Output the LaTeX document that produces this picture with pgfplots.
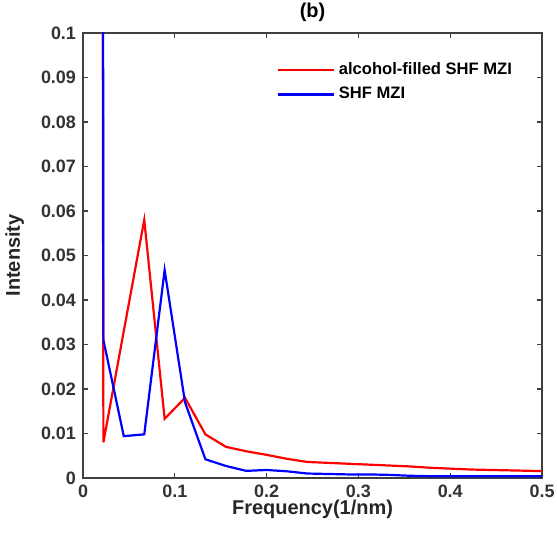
\documentclass[border=0pt]{standalone}
\usepackage{fontspec}
\setmainfont{Liberation Sans}
\usepackage{pgfplots}
\pgfplotsset{compat=1.18}
\begin{document}
\begin{tikzpicture}
\begin{axis}[
    name=main,
    scale only axis,
    width=230pt, height=223pt,
    xmin=0, xmax=0.5,
    ymin=0, ymax=0.1,
    xtick={0,0.1,0.2,0.3,0.4,0.5},
    xticklabels={0,0.1,0.2,0.3,0.4,0.5},
    ytick={0,0.01,0.02,0.03,0.04,0.05,0.06,0.07,0.08,0.09,0.1},
    yticklabels={0,0.01,0.02,0.03,0.04,0.05,0.06,0.07,0.08,0.09,0.1},
    tick align=inside,
    tick pos=both,
    major tick length=2.5pt,
    axis line style={black!75, line width=0.6pt},
    tick style={black!75, line width=0.6pt},
    tick label style={font=\fontsize{9}{11}\selectfont\bfseries, text=black!80},
    title={\bfseries (b)},
    title style={inner sep=0pt, yshift=-0.5pt},
    xlabel={\bfseries Frequency(1/nm)},
    ylabel={\bfseries Intensity},
    label style={text=black!85, inner sep=0pt},
    xlabel style={yshift=2.5pt},
    ylabel style={yshift=5pt},
    legend style={draw=none, fill=none, at={(0.957,0.953)}, anchor=north east,
        font=\fontsize{8.3}{10}\selectfont\bfseries, row sep=1pt},
    legend cell align=left,
    legend image code/.code={\draw[#1] (0pt,0pt) -- (28pt,0pt);},
    every axis plot/.append style={line width=1.1pt},
]
\addplot[red] coordinates {
(0,3) (0.0222,0.008) (0.0444,0.033) (0.0667,0.058) (0.0889,0.0133)
(0.1111,0.018) (0.1333,0.0098) (0.1556,0.0070) (0.1778,0.0060) (0.2,0.0052)
(0.2222,0.0043) (0.2444,0.0036) (0.2667,0.0034) (0.2889,0.0032) (0.3111,0.0030)
(0.3333,0.0028) (0.3556,0.0026) (0.3778,0.0023) (0.4,0.0021) (0.4222,0.0019)
(0.4444,0.0018) (0.4667,0.0017) (0.4889,0.0016) (0.5111,0.0015)
};
\addplot[blue] coordinates {
(0,5) (0.0222,0.031) (0.0444,0.0094) (0.0667,0.0098) (0.0889,0.0467)
(0.1111,0.0170) (0.1333,0.0042) (0.1556,0.0027) (0.1778,0.0016) (0.2,0.0018)
(0.2222,0.0015) (0.2444,0.0010) (0.2667,0.0009) (0.2889,0.0008) (0.3111,0.0008)
(0.3333,0.0007) (0.3556,0.0005) (0.3778,0.0004) (0.4,0.0004) (0.4222,0.0004)
(0.4444,0.0004) (0.4667,0.0004) (0.4889,0.0004) (0.5111,0.0004)
};
\legend{alcohol-filled SHF MZI, SHF MZI}
\end{axis}
% fix the page to the reference's margins round the axis
\pgfresetboundingbox
\path ([shift={(-41.6pt,-30.6pt)}]main.south west) rectangle ([shift={(7.5pt,16.5pt)}]main.north east);
\end{tikzpicture}
\end{document}
